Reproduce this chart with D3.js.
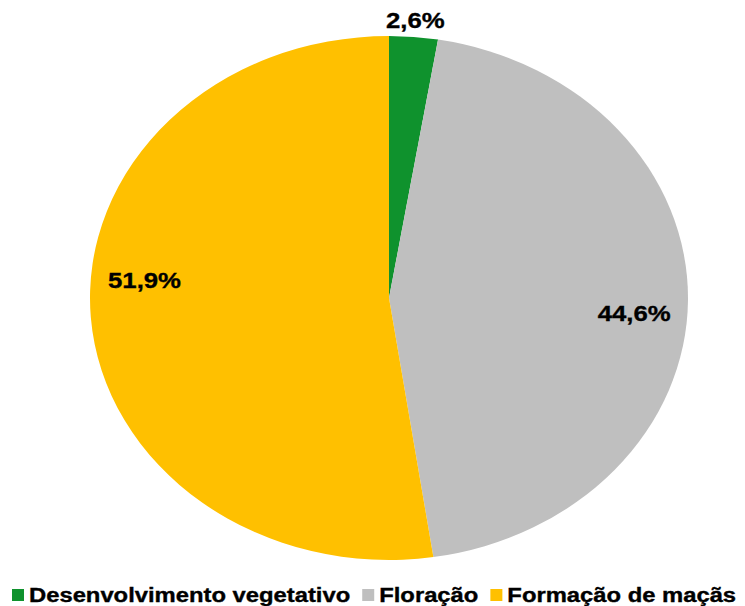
<!DOCTYPE html>
<html>
<head>
<meta charset="utf-8">
<script src="https://cdn.jsdelivr.net/npm/d3@7"></script>
<style>
  body { margin: 0; background: #fff; }
  text { font-family: "Liberation Sans", Arial, sans-serif; font-weight: bold; fill: #000; stroke: #000; stroke-width: 0.35px; }
</style>
</head>
<body>
<div id="chart"></div>
<script>
// data
const categories = ["Desenvolvimento vegetativo", "Floração", "Formação de maçãs"];
const values = [2.6, 44.6, 51.9];
const labels = ["2,6%", "44,6%", "51,9%"];
const colors = ["#0f922d", "#bfbfbf", "#ffc000"];

const width = 745, height = 606;
const cx = 389, cy = 298;
const rx = 299, ry = 262;
const stretch = rx / ry;   // the original pie is drawn as an ellipse

const svg = d3.select("#chart").append("svg")
    .attr("width", width)
    .attr("height", height);

const pie = d3.pie().sort(null).value(d => d.value);
const arcs = pie(categories.map((c, i) => ({name: c, value: values[i], label: labels[i], color: colors[i]})));

const arc = d3.arc().innerRadius(0).outerRadius(ry);

// slices
svg.append("g")
    .attr("transform", `translate(${cx},${cy}) scale(${stretch},1)`)
    .selectAll("path")
    .data(arcs)
    .enter()
    .append("path")
    .attr("d", arc)
    .attr("fill", d => d.data.color);

// data labels (small slice goes outside)
const inside = d3.arc().innerRadius(ry * 0.82).outerRadius(ry * 0.82);
const outside = d3.arc().innerRadius(ry * 1.07).outerRadius(ry * 1.07);
// excel "best fit" moves the inside labels a bit off the mid angle
const nudge = [1, 13, -34];

svg.append("g")
    .selectAll("text")
    .data(arcs)
    .enter()
    .append("text")
    .attr("transform", (d, i) => {
        const p = (d.data.value < 5 ? outside : inside).centroid(d);
        return `translate(${cx + p[0] * stretch},${cy + p[1] + nudge[i]}) scale(1.12,1)`;
    })
    .attr("text-anchor", "middle")
    .attr("dy", "0.35em")
    .style("font-size", "23px")
    .text(d => d.data.label);

// legend
const legend = svg.append("g")
    .attr("transform", `translate(12,${height - 4})`);   // text baseline

let x = 0;
categories.forEach(function (c, i) {
    const item = legend.append("g").attr("transform", `translate(${x},0)`);
    item.append("rect")
        .attr("x", 0).attr("y", -13)
        .attr("width", 12).attr("height", 12)
        .attr("fill", colors[i]);
    const t = item.append("text")
        .attr("transform", "translate(17,0) scale(1.19,1)")
        .style("font-size", "20px")
        .text(c);
    x += 17 + t.node().getComputedTextLength() * 1.19 + 12;
});
</script>
</body>
</html>
